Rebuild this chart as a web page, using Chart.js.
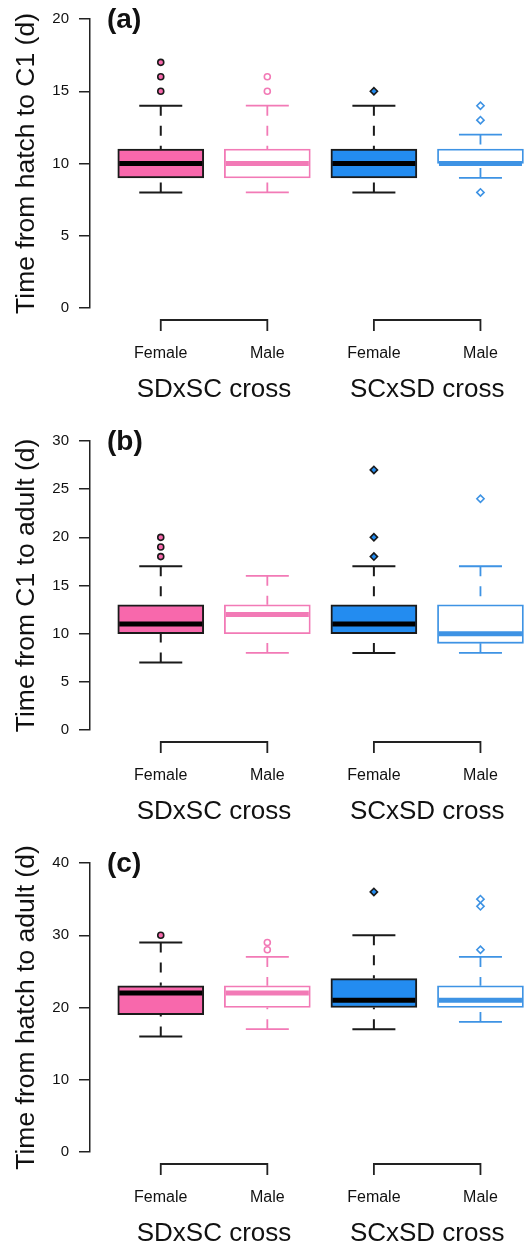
<!DOCTYPE html>
<html>
<head>
<meta charset="utf-8">
<script src="https://cdn.jsdelivr.net/npm/chart.js@4"></script>
<style>
  html, body { margin: 0; padding: 0; background: #fff; }
  body { width: 530px; height: 1247px; overflow: hidden; }
  .panel { width: 550px; height: 422px; }
  canvas { display: block; }
</style>
</head>
<body>
<div class="panel"><canvas id="chart-a" width="550" height="422"></canvas></div>
<div class="panel"><canvas id="chart-b" width="550" height="422"></canvas></div>
<div class="panel"><canvas id="chart-c" width="550" height="422"></canvas></div>
<script>
// groups along the x axis
const groups = ["Female", "Male", "Female", "Male"];
const crosses = ["SDxSC cross", "SCxSD cross"];

// (a) hatch to C1
const hatchC1Low = [8, 8, 8, 9];
const hatchC1Q1 = [9, 9, 9, 10];
const hatchC1Med = [10, 10, 10, 10];
const hatchC1Q3 = [11, 11, 11, 11];
const hatchC1High = [14, 14, 14, 12];
const hatchC1Out = [[15, 16, 17], [15, 16], [15], [8, 13, 14]];

// (b) C1 to adult
const c1AdultLow = [7, 8, 8, 8];
const c1AdultQ1 = [10, 10, 10, 9];
const c1AdultMed = [11, 12, 11, 10];
const c1AdultQ3 = [13, 13, 13, 13];
const c1AdultHigh = [17, 16, 17, 17];
const c1AdultOut = [[18, 19, 20], [], [18, 20, 27], [24]];

// (c) hatch to adult
const hatchAdultLow = [16, 17, 17, 18];
const hatchAdultQ1 = [19, 20, 20, 20];
const hatchAdultMed = [22, 22, 21, 21];
const hatchAdultQ3 = [23, 23, 24, 23];
const hatchAdultHigh = [29, 27, 30, 27];
const hatchAdultOut = [[30], [28, 29], [36], [28, 34, 35]];

const fills = ["#F868AC", "#FFFFFF", "#238CF0", "#FFFFFF"];
const edges = ["#1a1a1a", "#F27AB6", "#1a1a1a", "#3E93E4"];
const medColors = ["#000000", "#F27AB6", "#000000", "#3E93E4"];
const outFills = ["#F868AC", "#FFFFFF", "#238CF0", "#FFFFFF"];
const outStyles = ["circle", "circle", "rectRot", "rectRot"];

Chart.defaults.font.family = '"Liberation Sans", Arial, Helvetica, sans-serif';

const boxLines = {
  id: "boxLines",
  afterDatasetsDraw(chart) {
    const o = chart.options.plugins.boxLines;
    const { ctx, chartArea } = chart;
    const x = chart.scales.x, y = chart.scales.y;
    ctx.save();
    for (let i = 0; i < 4; i++) {
      const cx = x.getPixelForValue(i + 1);
      const half = 42.5, cap = 21.5;
      ctx.strokeStyle = edges[i];
      ctx.lineWidth = i % 2 ? 1.8 : 2;
      // whiskers (dashed, from whisker end to box)
      ctx.setLineDash([10, 10]);
      ctx.beginPath();
      ctx.moveTo(cx, y.getPixelForValue(o.high[i]));
      ctx.lineTo(cx, y.getPixelForValue(o.q3[i]));
      ctx.moveTo(cx, y.getPixelForValue(o.low[i]));
      ctx.lineTo(cx, y.getPixelForValue(o.q1[i]));
      ctx.stroke();
      ctx.setLineDash([]);
      // caps
      ctx.beginPath();
      [o.high[i], o.low[i]].forEach(v => {
        const py = y.getPixelForValue(v);
        ctx.moveTo(cx - cap, py);
        ctx.lineTo(cx + cap, py);
      });
      ctx.stroke();
      // median
      ctx.strokeStyle = medColors[i];
      ctx.lineWidth = 5;
      const my = y.getPixelForValue(o.med[i]);
      ctx.beginPath();
      ctx.moveTo(cx - half + 1, my);
      ctx.lineTo(cx + half - 1, my);
      ctx.stroke();
    }
    // group brackets under the axis
    ctx.strokeStyle = "#222";
    ctx.lineWidth = 1.8;
    const by = chartArea.bottom + 12;
    [[1, 2], [3, 4]].forEach(([a, b]) => {
      const xa = x.getPixelForValue(a), xb = x.getPixelForValue(b);
      ctx.beginPath();
      ctx.moveTo(xa, by + 11);
      ctx.lineTo(xa, by);
      ctx.lineTo(xb, by);
      ctx.lineTo(xb, by + 11);
      ctx.stroke();
    });
    // panel tag
    ctx.fillStyle = "#111";
    ctx.font = 'bold 28px "Liberation Sans", Arial, sans-serif';
    ctx.textBaseline = "middle";
    ctx.textAlign = "left";
    ctx.fillText(o.tag, chartArea.left + 17, chartArea.top + 1.5);
    ctx.restore();
  }
};

function makePanel(id, tag, title, yMax, step, low, q1, med, q3, high, out) {
  const boxes = q1.map((v, i) => ({ x: i + 1, y: [v, q3[i]] }));
  const datasets = [{
    type: "bar",
    data: boxes,
    backgroundColor: fills,
    borderColor: edges,
    borderWidth: [2, 1.8, 2, 1.8],
    borderSkipped: false,
    barThickness: 86,
    order: 2
  }];
  out.forEach((vals, i) => {
    datasets.push({
      type: "scatter",
      data: vals.map(v => ({ x: i + 1, y: v })),
      pointStyle: outStyles[i],
      pointRadius: outStyles[i] === "circle" ? 3 : 3.6,
      pointBackgroundColor: outFills[i],
      pointBorderColor: edges[i],
      pointBorderWidth: 1.6,
      order: 1
    });
  });

  new Chart(document.getElementById(id), {
    type: "bar",
    data: { datasets },
    plugins: [boxLines],
    options: {
      responsive: false,
      animation: false,
      layout: { padding: { top: 19, left: 0, right: 0, bottom: 4 } },
      plugins: {
        legend: { display: false },
        tooltip: { enabled: false },
        boxLines: { tag, low, q1, med, q3, high }
      },
      scales: {
        x: {
          type: "linear",
          offset: false,
          min: 0.336,
          max: 4.6,
          weight: 0,
          grid: { display: false, offset: false },
          border: { display: false },
          afterBuildTicks: a => { a.ticks = [1, 2, 3, 4].map(v => ({ value: v })); },
          afterFit: a => { a.height = 53; },
          ticks: {
            autoSkip: false,
            maxRotation: 0,
            padding: 28,
            color: "#111",
            font: { size: 16 },
            callback: (v, i) => groups[i]
          }
        },
        x2: {
          type: "linear",
          position: "bottom",
          offset: false,
          min: 0.336,
          max: 4.6,
          weight: 1,
          grid: { display: false },
          border: { display: false },
          afterBuildTicks: a => { a.ticks = [1.5, 3.5].map(v => ({ value: v })); },
          afterFit: a => { a.height = 57; },
          ticks: {
            autoSkip: false,
            maxRotation: 0,
            padding: 5,
            color: "#111",
            font: { size: 26 },
            callback: (v, i) => crosses[i]
          }
        },
        y: {
          min: 0,
          max: yMax,
          afterFit: a => { a.width = 90; },
          ticks: { stepSize: step, padding: 10, color: "#111", font: { size: 15 } },
          grid: { drawOnChartArea: false, drawTicks: true, tickLength: 11, color: "#222", lineWidth: 1.5 },
          border: { display: true, color: "#222", width: 1.5 },
          title: { display: true, text: title, color: "#111", font: { size: 26.5 }, padding: { top: 11, bottom: 0 } }
        }
      }
    }
  });
}

makePanel("chart-a", "(a)", "Time from hatch to C1 (d)", 20, 5,
  hatchC1Low, hatchC1Q1, hatchC1Med, hatchC1Q3, hatchC1High, hatchC1Out);
makePanel("chart-b", "(b)", "Time from C1 to adult (d)", 30, 5,
  c1AdultLow, c1AdultQ1, c1AdultMed, c1AdultQ3, c1AdultHigh, c1AdultOut);
makePanel("chart-c", "(c)", "Time from hatch to adult (d)", 40, 10,
  hatchAdultLow, hatchAdultQ1, hatchAdultMed, hatchAdultQ3, hatchAdultHigh, hatchAdultOut);
</script>
</body>
</html>
